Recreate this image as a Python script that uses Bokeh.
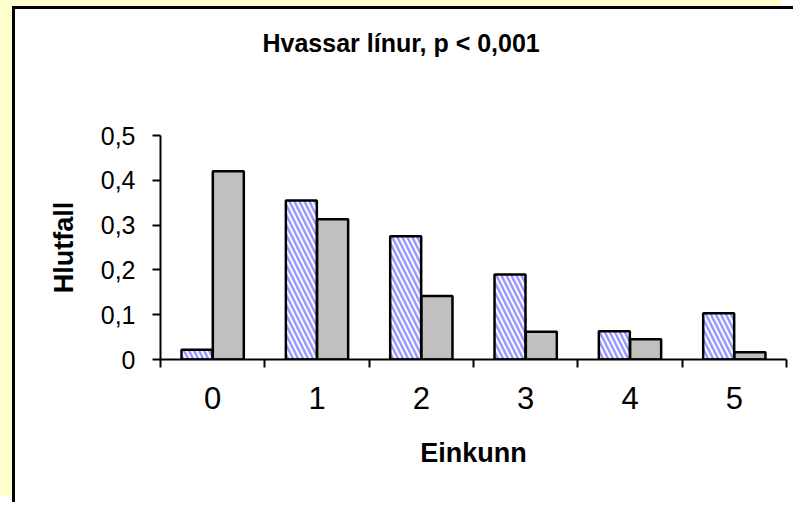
from bokeh.plotting import figure
from bokeh.models import ColumnDataSource, FixedTicker, Range1d, Title
from bokeh.transform import dodge
from bokeh.embed import file_html
from bokeh.resources import INLINE

# ---- data ----
categories = ["0", "1", "2", "3", "4", "5"]
hatched_values = [0.022, 0.355, 0.275, 0.19, 0.063, 0.103]
grey_values = [0.42, 0.313, 0.142, 0.062, 0.045, 0.016]
y_ticks = [0, 0.1, 0.2, 0.3, 0.4, 0.5]
y_tick_labels = ["0", "0,1", "0,2", "0,3", "0,4", "0,5"]
title_text = "Hvassar línur, p < 0,001"
x_label = "Einkunn"
y_label = "Hlutfall"

idx = list(range(len(categories)))
boundaries = [i - 0.5 for i in idx] + [idx[-1] + 0.5]

source = ColumnDataSource(dict(x=idx, hatched=hatched_values, grey=grey_values))

FONT = "Liberation Sans"

p = figure(
    width=781, height=496,
    x_range=Range1d(-0.5, 5.5), y_range=Range1d(y_ticks[0], y_ticks[-1]),
    output_backend="svg", toolbar_location=None, tools="",
    min_border_left=145, min_border_right=10,
    min_border_top=126, min_border_bottom=146,
)
p.margin = (9, 0, 0, 15)
p.styles = {"box-shadow": "-3px -3px 0 0 #000000, -15px -9px 0 0 #FFFFCC"}

p.background_fill_color = "white"
p.border_fill_color = "white"
p.outline_line_color = None
p.xgrid.visible = False
p.ygrid.visible = False

# title: an empty spacer panel next to the frame, the real title above it
p.title.text = ""
p.add_layout(Title(text=" ", text_font_size="1px", standoff=75), "above")
p.add_layout(Title(text=title_text, text_font=FONT, text_font_size="25px",
                   text_font_style="bold", align="left", offset=102,
                   standoff=2, text_color="black"), "above")

# bars
p.vbar(x=dodge("x", -0.15, range=p.x_range), top="hatched", width=0.297, bottom=0,
       source=source, fill_color="white", line_color="black", line_width=2.5,
       hatch_pattern="\\", hatch_color="#9999FF", hatch_scale=10, hatch_weight=2.5)
p.vbar(x=dodge("x", 0.15, range=p.x_range), top="grey", width=0.297, bottom=0,
       source=source, fill_color="#C0C0C0", line_color="black", line_width=2.5)

# x axis
xa = p.xaxis[0]
xa.ticker = FixedTicker(ticks=idx, minor_ticks=boundaries)
xa.major_label_overrides = {i: c for i, c in zip(idx, categories)}
xa.major_tick_out = 0
xa.major_tick_in = 0
xa.minor_tick_out = 8
xa.minor_tick_in = 0
xa.minor_tick_line_width = 2
xa.minor_tick_line_color = "black"
xa.axis_line_width = 2
xa.axis_line_color = "black"
xa.major_label_text_font = FONT
xa.major_label_text_font_size = "31px"
xa.major_label_text_color = "black"
xa.major_label_standoff = 19
xa.axis_label = x_label
xa.axis_label_text_font = FONT
xa.axis_label_text_font_size = "27px"
xa.axis_label_text_font_style = "bold"
xa.axis_label_text_color = "black"
xa.axis_label_standoff = 26

# y axis
ya = p.yaxis[0]
ya.ticker = FixedTicker(ticks=y_ticks, minor_ticks=[])
ya.major_label_overrides = {t: l for t, l in zip(y_ticks, y_tick_labels)}
ya.major_tick_out = 8
ya.major_tick_in = 0
ya.major_tick_line_width = 2
ya.major_tick_line_color = "black"
ya.minor_tick_out = 0
ya.minor_tick_in = 0
ya.axis_line_width = 2
ya.axis_line_color = "black"
ya.major_label_text_font = FONT
ya.major_label_text_font_size = "25px"
ya.major_label_text_color = "black"
ya.major_label_standoff = 17
ya.axis_label = y_label
ya.axis_label_text_font = FONT
ya.axis_label_text_font_size = "27px"
ya.axis_label_text_font_style = "bold"
ya.axis_label_text_color = "black"
ya.axis_label_standoff = 19

open("out.html", "w").write(file_html(p, INLINE))
